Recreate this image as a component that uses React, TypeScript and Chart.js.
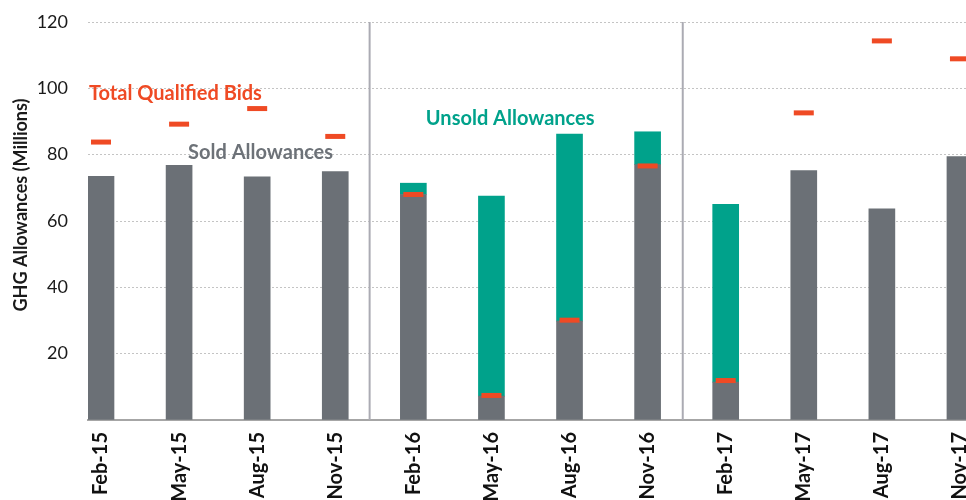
import React, { useEffect, useRef } from 'react';
import { Chart, registerables } from 'chart.js';

Chart.register(...registerables);

// ---- data ----
const categories = ['Feb-15', 'May-15', 'Aug-15', 'Nov-15', 'Feb-16', 'May-16', 'Aug-16', 'Nov-16', 'Feb-17', 'May-17', 'Aug-17', 'Nov-17'];
const soldAllowances = [73.5, 76.8, 73.3, 74.9, 68.0, 7.2, 29.8, 77.0, 11.4, 75.2, 63.7, 79.4];
const unsoldAllowances = [null, null, null, null, 3.4, 60.3, 56.4, 9.9, 53.6, null, null, null];
const totalQualifiedBids = [83.8, 89.2, 93.9, 85.5, 68.0, 7.4, 30.1, 76.6, 11.9, 92.6, 114.3, 108.9];
const yearDividers = [3.44, 7.45];
const yMin = 0;
const yMax = 120;
const yStep = 20;

// ---- styles ----
const RED = '#EF4A24';
const GRAY = '#6B7076';
const TEAL = '#00A28B';
const DIVIDER = '#ABABB3';
const CANVAS_W = 1039;
const CANVAS_H = 500;

const annotationLabels = [
  { text: 'Total Qualified Bids', x: -0.154, y: 98.5, color: RED },
  { text: 'Sold Allowances', x: 1.115, y: 80.7, color: '#6D7278' },
  { text: 'Unsold Allowances', x: 4.16, y: 91.0, color: TEAL },
];

const textPlugin = {
  id: 'textPlugin',
  afterDatasetsDraw(chart: any) {
    const { ctx, scales } = chart;
    ctx.save();
    ctx.textAlign = 'left';
    ctx.textBaseline = 'middle';
    ctx.font = 'bold 20px Lato';
    for (const a of annotationLabels) {
      ctx.fillStyle = a.color;
      ctx.fillText(a.text, scales.x.getPixelForValue(a.x), scales.y.getPixelForValue(a.y));
    }
    // y axis title
    ctx.translate(21, 205);
    ctx.rotate(-Math.PI / 2);
    ctx.textAlign = 'center';
    ctx.fillStyle = '#1a1a1a';
    ctx.font = 'bold 18px Lato';
    ctx.fillText('GHG Allowances (Millions)', 0, 0);
    ctx.restore();
  },
};

export default function App() {
  const ref = useRef<HTMLCanvasElement>(null);

  useEffect(() => {
    const canvas = ref.current;
    if (!canvas) return;
    const chart = new Chart(canvas, {
      type: 'bar',
      data: {
        datasets: [
          {
            type: 'line',
            label: 'Total Qualified Bids',
            data: totalQualifiedBids.map((v, i) => ({ x: i, y: v })),
            showLine: false,
            pointStyle: 'line',
            pointRadius: 10,
            pointHoverRadius: 10,
            pointBorderWidth: 5,
            pointBorderColor: RED,
            pointBackgroundColor: RED,
            borderColor: RED,
            order: 0,
            stack: 'bids',
          } as any,
          {
            type: 'bar',
            label: 'Sold Allowances',
            data: soldAllowances.map((v, i) => ({ x: i, y: v })),
            backgroundColor: GRAY,
            barThickness: 26,
            order: 1,
            stack: 'allowances',
          } as any,
          {
            type: 'bar',
            label: 'Unsold Allowances',
            data: unsoldAllowances.map((v, i) => ({ x: i, y: v })),
            backgroundColor: TEAL,
            barThickness: 26,
            order: 1,
            stack: 'allowances',
          } as any,
          ...yearDividers.map((d, k) => ({
            type: 'line',
            label: 'divider' + k,
            data: [{ x: d, y: yMin }, { x: d, y: yMax }],
            borderColor: DIVIDER,
            borderWidth: 2,
            pointRadius: 0,
            order: 2,
            stack: 'divider' + k,
          } as any)),
        ],
      },
      options: {
        responsive: false,
        animation: false,
        devicePixelRatio: 1,
        events: [],
        layout: { padding: { top: 22, left: 0, right: 40, bottom: 0 } },
        plugins: { legend: { display: false }, tooltip: { enabled: false } },
        scales: {
          x: {
            type: 'linear',
            min: -0.1665,
            max: 11.5,
            offset: false,
            stacked: true,
            grid: { display: false, drawTicks: false, offset: false },
            border: { display: true, color: '#A6A6A6', width: 2 },
            ticks: {
              stepSize: 1,
              includeBounds: false,
              autoSkip: false,
              maxRotation: 90,
              minRotation: 90,
              padding: 12,
              color: '#111111',
              font: { family: 'Lato', size: 20, weight: 'bold' },
              callback: (v: any) => (Number.isInteger(v) && categories[v] ? categories[v] : ''),
            },
            afterFit: (s: any) => { s.height = 80; },
          },
          y: {
            stacked: true,
            min: yMin,
            max: yMax,
            grid: {
              color: (c: any) => (c.tick && c.tick.value === 0 ? 'rgba(0,0,0,0)' : '#C4C4C4'),
              lineWidth: 1,
              drawTicks: true,
              tickLength: 20,
              tickColor: 'rgba(0,0,0,0)',
            },
            border: { display: false, dash: [2, 2] },
            ticks: {
              stepSize: yStep,
              padding: 0,
              color: '#1a1a1a',
              font: { family: 'Lato', size: 18 },
              callback: (v: any) => (v === 0 ? '' : String(v)),
            },
            afterFit: (s: any) => { s.width = 88; },
          },
        },
      } as any,
      plugins: [textPlugin],
    });
    return () => chart.destroy();
  }, []);

  return (
    <div style={{ position: 'absolute', left: 0, top: 0, width: 966, height: 500, overflow: 'hidden', background: '#fff' }}>
      <canvas ref={ref} width={CANVAS_W} height={CANVAS_H} style={{ display: 'block', width: CANVAS_W, height: CANVAS_H }} />
    </div>
  );
}
